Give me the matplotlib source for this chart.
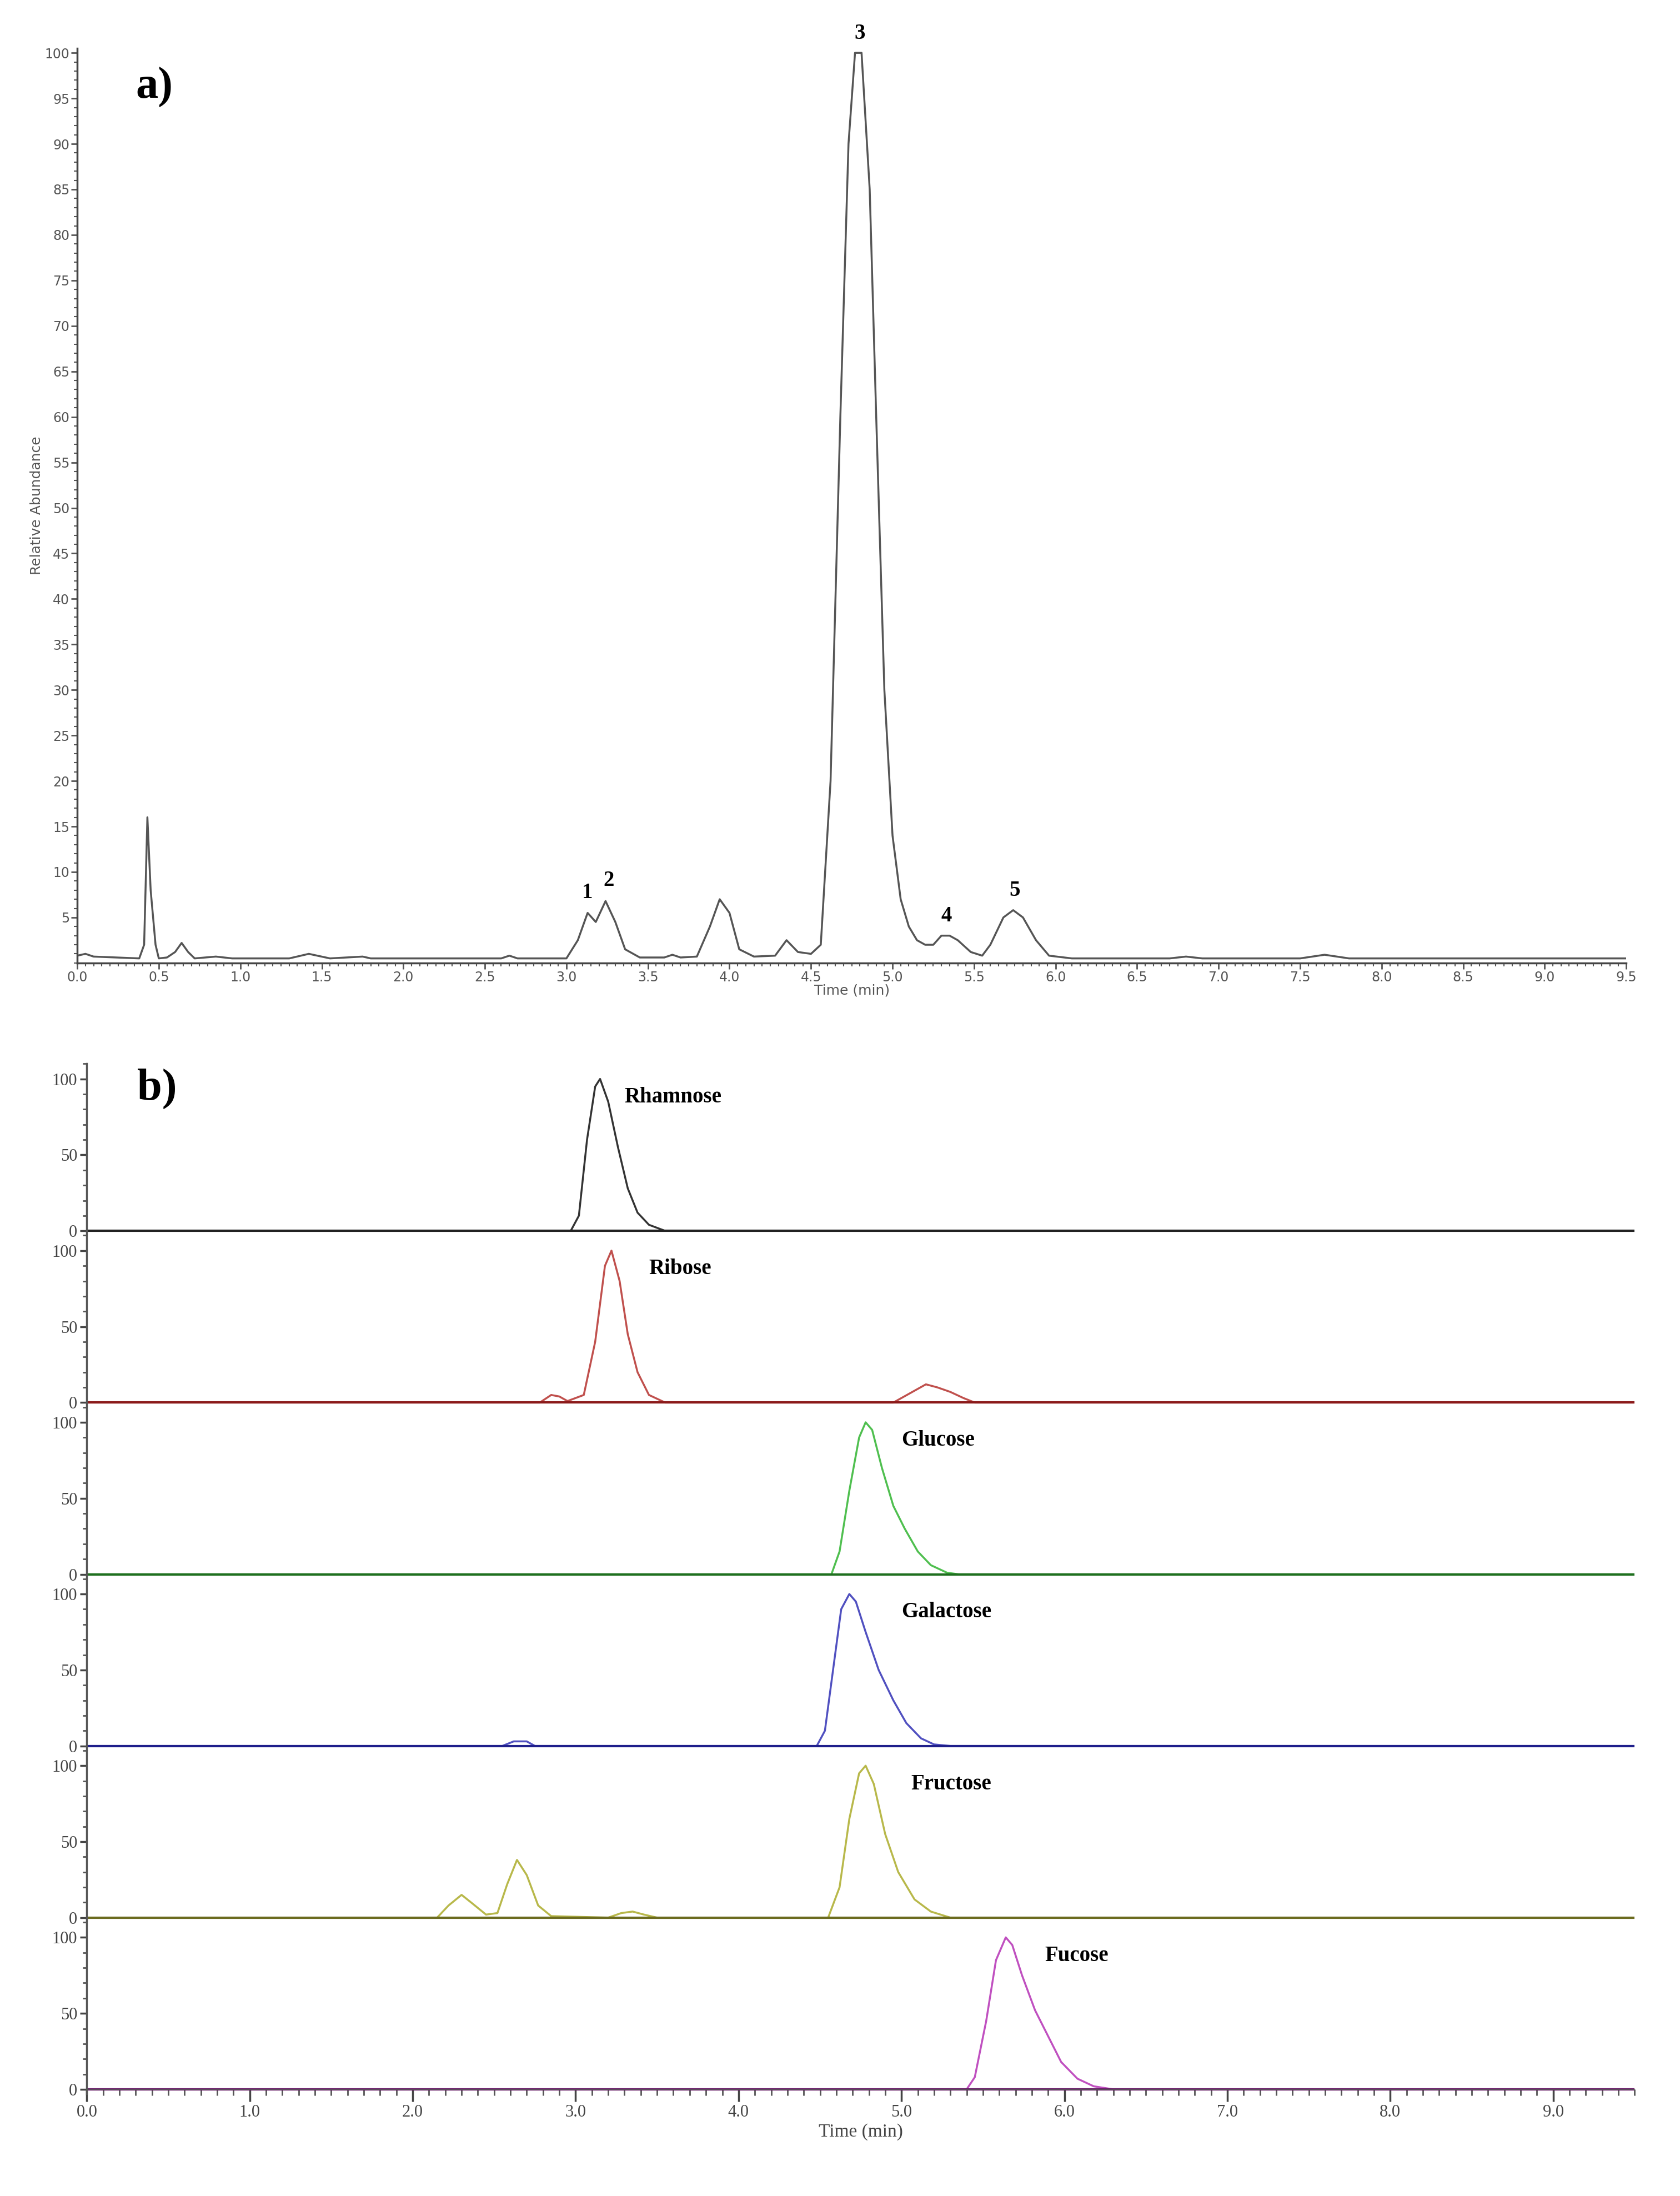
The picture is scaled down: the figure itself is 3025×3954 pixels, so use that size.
import matplotlib
matplotlib.use("Agg")
import matplotlib.pyplot as plt
from matplotlib.ticker import MultipleLocator

# ---- data: panel a (total chromatogram) ----
a_time = [0,0.05,0.1,0.38,0.41,0.43,0.45,0.48,0.5,0.55,0.6,0.64,0.68,0.72,0.85,0.95,1.3,1.42,1.55,1.75,1.8,2.6,2.65,2.7,3.0,3.07,3.13,3.18,3.24,3.3,3.36,3.45,3.6,3.65,3.7,3.8,3.88,3.94,4.0,4.06,4.15,4.28,4.35,4.42,4.5,4.56,4.62,4.68,4.73,4.77,4.81,4.86,4.9,4.95,5.0,5.05,5.1,5.15,5.2,5.25,5.3,5.35,5.4,5.48,5.55,5.6,5.68,5.74,5.8,5.88,5.96,6.1,6.7,6.8,6.9,7.5,7.65,7.8,9.5]
a_abund = [0.8,1.0,0.7,0.5,2,16,8,2,0.5,0.6,1.2,2.2,1.2,0.5,0.7,0.5,0.5,1.0,0.5,0.7,0.5,0.5,0.8,0.5,0.5,2.5,5.5,4.5,6.8,4.5,1.5,0.6,0.6,0.9,0.6,0.7,4,7,5.5,1.5,0.7,0.8,2.5,1.2,1,2,20,60,90,100,100,85,60,30,14,7,4,2.5,2,2,3,3,2.5,1.2,0.8,2,5,5.8,5,2.5,0.8,0.5,0.5,0.7,0.5,0.5,0.9,0.5,0.5]
a_peak_labels = ["1", "2", "3", "4", "5"]
a_peak_time = [3.13, 3.26, 4.8, 5.33, 5.75]
a_peak_height = [5.6, 6.9, 100, 3.0, 5.8]

# ---- data: panel b (standards) ----
names = ["Rhamnose", "Ribose", "Glucose", "Galactose", "Fructose", "Fucose"]
colors = ["#333333", "#c0504d", "#4fbf4f", "#5050c0", "#b8b84a", "#c050c0"]
base_colors = ["#222222", "#8b1a1a", "#1f6f1f", "#1f1f8b", "#6b6b1f", "#6b1f6b"]
label_time = [3.3, 3.45, 5.0, 5.0, 5.06, 5.88]
t_rha = [0,2.97,3.02,3.07,3.12,3.15,3.2,3.26,3.32,3.38,3.45,3.55,9.5]
y_rha = [0,0,10,60,95,100,85,55,28,12,4,0,0]
t_rib = [0,2.78,2.85,2.9,2.95,3.05,3.12,3.18,3.22,3.27,3.32,3.38,3.45,3.55,4.95,5.05,5.15,5.22,5.3,5.38,5.45,9.5]
y_rib = [0,0,5,4,1,5,40,90,100,80,45,20,5,0,0,6,12,10,7,3,0,0]
t_glc = [0,4.57,4.62,4.68,4.74,4.78,4.82,4.88,4.95,5.02,5.1,5.18,5.28,5.35,9.5]
y_glc = [0,0,15,55,90,100,95,70,45,30,15,6,1,0,0]
t_gal = [0,2.55,2.62,2.7,2.75,4.48,4.53,4.58,4.63,4.68,4.72,4.78,4.86,4.95,5.03,5.12,5.2,5.3,9.5]
y_gal = [0,0,3,3,0,0,10,50,90,100,95,75,50,30,15,5,1,0,0]
t_fru = [0,2.15,2.22,2.3,2.37,2.45,2.52,2.58,2.64,2.7,2.77,2.85,3.2,3.28,3.35,3.42,3.5,4.55,4.62,4.68,4.74,4.78,4.83,4.9,4.98,5.08,5.18,5.3,9.5]
y_fru = [0,0,8,15,9,2,3,22,38,28,8,1,0,3,4,2,0,0,20,65,95,100,88,55,30,12,4,0,0]
t_fuc = [0,5.4,5.45,5.52,5.58,5.64,5.68,5.74,5.82,5.9,5.98,6.08,6.18,6.3,9.5]
y_fuc = [0,0,8,45,85,100,95,75,52,35,18,7,2,0,0]
b_times = [t_rha, t_rib, t_glc, t_gal, t_fru, t_fuc]
b_vals = [y_rha, y_rib, y_glc, y_gal, y_fru, y_fuc]

serif = ["Liberation Serif", "DejaVu Serif"]
W, H = 3025, 3954
fig = plt.figure(figsize=(W/100, H/100), dpi=100)

# ---- panel a ----
ax = fig.add_axes([0.046, 0.5615, 0.922, 0.4165])
ax.plot(a_time, a_abund, color="#555555", lw=2.5)
ax.set_xlim(0, 9.5); ax.set_ylim(0, 100.5)
ax.xaxis.set_major_locator(MultipleLocator(0.5)); ax.xaxis.set_minor_locator(MultipleLocator(0.05))
ax.yaxis.set_major_locator(MultipleLocator(5)); ax.yaxis.set_minor_locator(MultipleLocator(1))
ax.set_yticks(range(5, 101, 5))
ax.tick_params(labelsize=17, colors="#555555", length=8, width=2, pad=2)
ax.tick_params(which="minor", length=4, width=1.5, colors="#555555")
for s in ["top", "right"]:
    ax.spines[s].set_visible(False)
for s in ["left", "bottom"]:
    ax.spines[s].set_color("#444444"); ax.spines[s].set_linewidth(2.5)
ax.set_xlabel("Time (min)", fontsize=18, color="#555555", labelpad=0)
ax.set_ylabel("Relative Abundance", fontsize=18, color="#555555", labelpad=2)
for lab, t, h in zip(a_peak_labels, a_peak_time, a_peak_height):
    ax.text(t, h + 1.0, lab, ha="center", va="bottom", fontsize=28, fontweight="bold",
            family=serif, clip_on=False)
ax.text(0.36, 95, "a)", fontsize=58, fontweight="bold", family=serif)

# ---- panel b ----
top, bottom = 0.5156, 0.0465
h = (top - bottom) / 6
for i in range(6):
    bx = fig.add_axes([0.0517, top - (i + 1) * h, 0.9213, h])
    bx.plot(b_times[i], b_vals[i], color=colors[i], lw=2.5)
    bx.axhline(0, color=base_colors[i], lw=3)
    bx.set_xlim(0, 9.5); bx.set_ylim(-3, 110)
    bx.set_yticks([0, 50, 100]); bx.yaxis.set_minor_locator(MultipleLocator(10))
    bx.xaxis.set_major_locator(MultipleLocator(1.0)); bx.xaxis.set_minor_locator(MultipleLocator(0.1))
    for s in ["top", "right", "bottom"]:
        bx.spines[s].set_visible(False)
    bx.spines["left"].set_color("#555555"); bx.spines["left"].set_linewidth(2.5)
    bx.tick_params(axis="y", labelsize=22, colors="#444444", length=9, width=2.5)
    bx.tick_params(axis="y", which="minor", length=5, width=2, colors="#555555")
    for lbl in bx.get_yticklabels():
        lbl.set_family(serif)
    bx.text(label_time[i], 88, names[i], fontsize=28, fontweight="bold", family=serif, va="center")
    if i < 5:
        bx.tick_params(axis="x", which="both", bottom=False, labelbottom=False)
    else:
        bx.spines["bottom"].set_visible(True)
        bx.spines["bottom"].set_position(("data", 0))
        bx.spines["bottom"].set_color("#555555")
        bx.tick_params(axis="x", labelsize=22, colors="#444444", length=16, width=2.5)
        bx.tick_params(axis="x", which="minor", length=8, width=2, colors="#555555")
        bx.set_xticks([0, 1, 2, 3, 4, 5, 6, 7, 8, 9])
        bx.set_xticklabels([f"{v:.1f}" for v in range(10)], family=serif)
        bx.set_xlabel("Time (min)", fontsize=24, family=serif, color="#444444")
        bx.text(0.4, 88, "", fontsize=1)
fig.text(112/1200, 1 - 778/1569, "b)", fontsize=58, fontweight="bold", family=serif, va="center", ha="center")

fig.savefig("out.png", dpi=100)
